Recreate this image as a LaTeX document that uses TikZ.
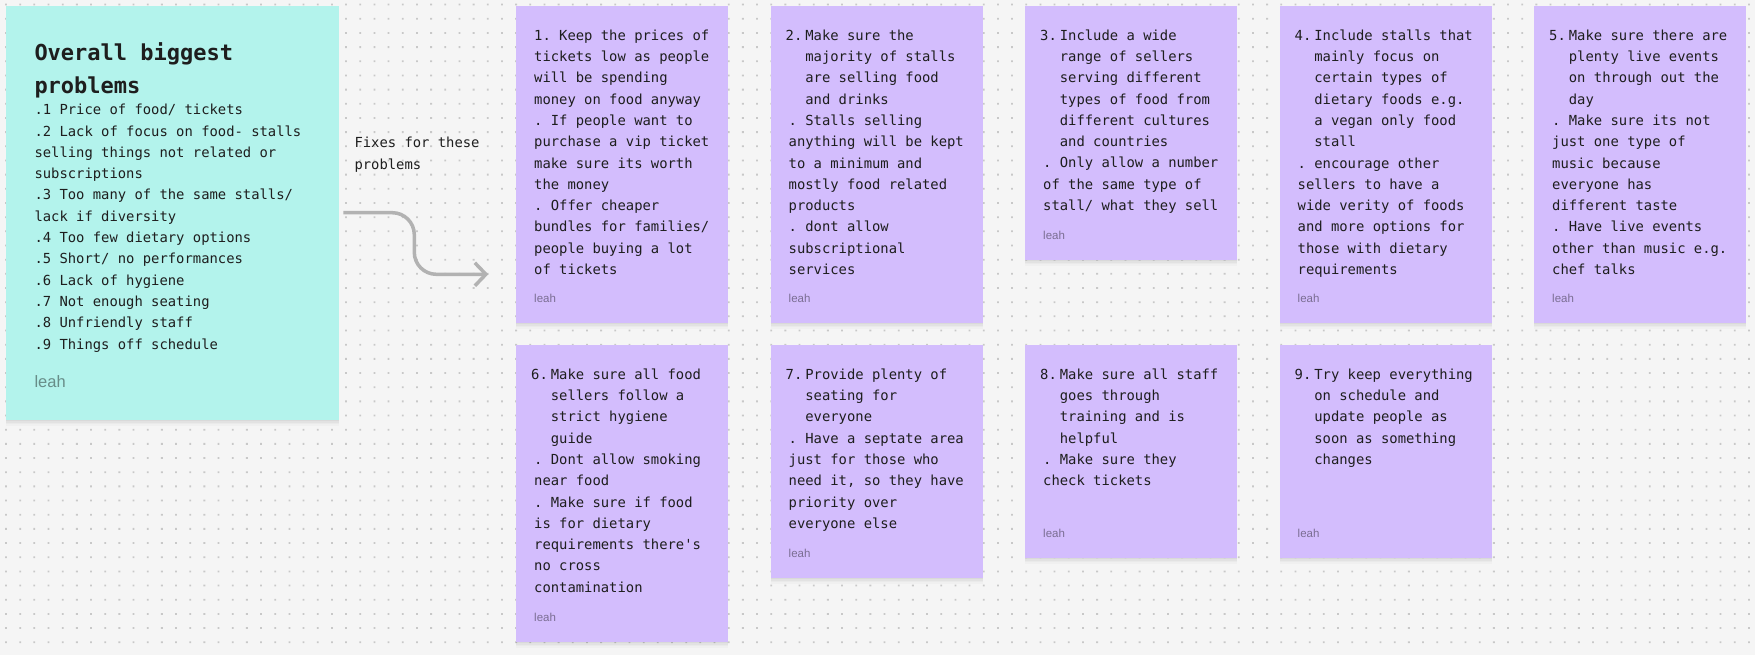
\documentclass[tikz,border=0pt]{standalone}
\usepackage{fontspec}
\setmainfont{Liberation Sans}
\newfontfamily\monofont{DejaVu Sans Mono}
\usetikzlibrary{arrows.meta,shadows}
\definecolor{bgc}{RGB}{245,245,245}
\definecolor{dotc}{RGB}{200,200,200}
\definecolor{tealc}{RGB}{179,243,236}
\definecolor{violetc}{RGB}{211,189,253}
\definecolor{txtc}{RGB}{30,30,30}
\definecolor{arrc}{RGB}{178,178,178}
\newcommand{\stind}{\phantom{xx}}
\newcommand{\stnum}[1]{\phantom{xx}\llap{#1\hspace{3pt}}}
\tikzset{
  card/.style={inner sep=0pt, anchor=north west, minimum width=212pt,
    drop shadow={shadow xshift=0pt, shadow yshift=-1pt, opacity=0.035, fill=black},
    drop shadow={shadow xshift=0pt, shadow yshift=-2.5pt, opacity=0.03, fill=black},
    drop shadow={shadow xshift=0pt, shadow yshift=-4pt, opacity=0.025, fill=black},
    drop shadow={shadow xshift=0pt, shadow yshift=-5.5pt, opacity=0.02, fill=black}},
  txt/.style={anchor=north west, inner sep=0pt, align=left, text=txtc,
    font=\monofont\frenchspacing\fontsize{13.85}{21.3}\selectfont},
  leah/.style={anchor=base west, inner sep=0pt, text=black, text opacity=0.42,
    font=\fontsize{11.5}{13}\selectfont},
  conn/.style={draw=arrc, line width=3.5pt, rounded corners=22pt,
    -{Straight Barb[length=11pt,width=23pt]}}
}
\newcommand{\stcard}[5]{%
  \node[card, fill=violetc, minimum height=#4pt] (#1) at (#2,#3) {};
  \node[txt] (#1t) at ([shift={(18,19.09)}]#1.north west) {\strut #5};
  \node[leah] (#1l) at ([shift={(18,-20.5)}]#1.south west) {leah};
}
\begin{document}
\begin{tikzpicture}[x=1pt,y=-1pt]
\fill[bgc] (0,0) rectangle (1755,655);
\useasboundingbox (0,0) rectangle (1755,655);
% dot grid
\fill[dotc] \foreach \i in {0,...,123} {\foreach \j in {0,...,45} {({5.1+\i*14.17},{3.7+\j*14.17}) rectangle ++(1.8,1.8)}};
% problems note
\node[card, fill=tealc, minimum width=333pt, minimum height=414pt] (prob) at (6,6) {};
\node[txt, font=\monofont\frenchspacing\bfseries\fontsize{22}{33}\selectfont] (probtitle)
  at ([shift={(28.3,30.9)}]prob.north west) {\strut Overall biggest\\problems};
\node[txt] (problist) at ([shift={(28.3,93.6)}]prob.north west) {\strut .1 Price of food/ tickets\\
.2 Lack of focus on food- stalls\\
selling things not related or\\
subscriptions\\
.3 Too many of the same stalls/\\
lack if diversity\\
.4 Too few dietary options\\
.5 Short/ no performances\\
.6 Lack of hygiene\\
.7 Not enough seating\\
.8 Unfriendly staff\\
.9 Things off schedule};
\node[leah, font=\fontsize{16.5}{18}\selectfont] (probleah) at ([shift={(28.3,-33)}]prob.south west) {leah};
% label
\node[txt] (fixes) at (354.3,132.8) {\strut Fixes for these\\problems};
% connector
\coordinate (a0) at (343.3,212.7);
\coordinate (a1) at (488.3,274.3);
\draw[conn] (a0) -- ++(71,0) -- ++(0,61.6) -- (a1);
% cards row 1
\stcard{c1}{516}{6}{317}{1. Keep the prices of\\ tickets low as people\\ will be spending\\ money on food anyway\\ . If people want to\\ purchase a vip ticket\\ make sure its worth\\ the money\\ . Offer cheaper\\ bundles for families/\\ people buying a lot\\ of tickets}
\stcard{c2}{770.5}{6}{317}{\stnum{2.}Make sure the\\ \stind majority of stalls\\ \stind are selling food\\ \stind and drinks\\ . Stalls selling\\ anything will be kept\\ to a minimum and\\ mostly food related\\ products\\ . dont allow\\ subscriptional\\ services}
\stcard{c3}{1025}{6}{254}{\stnum{3.}Include a wide\\ \stind range of sellers\\ \stind serving different\\ \stind types of food from\\ \stind different cultures\\ \stind and countries\\ . Only allow a number\\ of the same type of\\ stall/ what they sell}
\stcard{c4}{1279.5}{6}{317}{\stnum{4.}Include stalls that\\ \stind mainly focus on\\ \stind certain types of\\ \stind dietary foods e.g.\\ \stind a vegan only food\\ \stind stall\\ . encourage other\\ sellers to have a\\ wide verity of foods\\ and more options for\\ those with dietary\\ requirements}
\stcard{c5}{1534}{6}{317}{\stnum{5.}Make sure there are\\ \stind plenty live events\\ \stind on through out the\\ \stind day\\ . Make sure its not\\ just one type of\\ music because\\ everyone has\\ different taste\\ . Have live events\\ other than music e.g.\\ chef talks}
% cards row 2
\stcard{c6}{516}{345}{297}{\stnum{6.}Make sure all food\\ \stind sellers follow a\\ \stind strict hygiene\\ \stind guide\\ . Dont allow smoking\\ near food\\ . Make sure if food\\ is for dietary\\ requirements there\textquotesingle s\\ no cross\\ contamination}
\stcard{c7}{770.5}{345}{233}{\stnum{7.}Provide plenty of\\ \stind seating for\\ \stind everyone\\ . Have a septate area\\ just for those who\\ need it, so they have\\ priority over\\ everyone else}
\stcard{c8}{1025}{345}{213}{\stnum{8.}Make sure all staff\\ \stind goes through\\ \stind training and is\\ \stind helpful\\ . Make sure they\\ check tickets}
\stcard{c9}{1279.5}{345}{213}{\stnum{9.}Try keep everything\\ \stind on schedule and\\ \stind update people as\\ \stind soon as something\\ \stind changes}
\end{tikzpicture}
\end{document}
